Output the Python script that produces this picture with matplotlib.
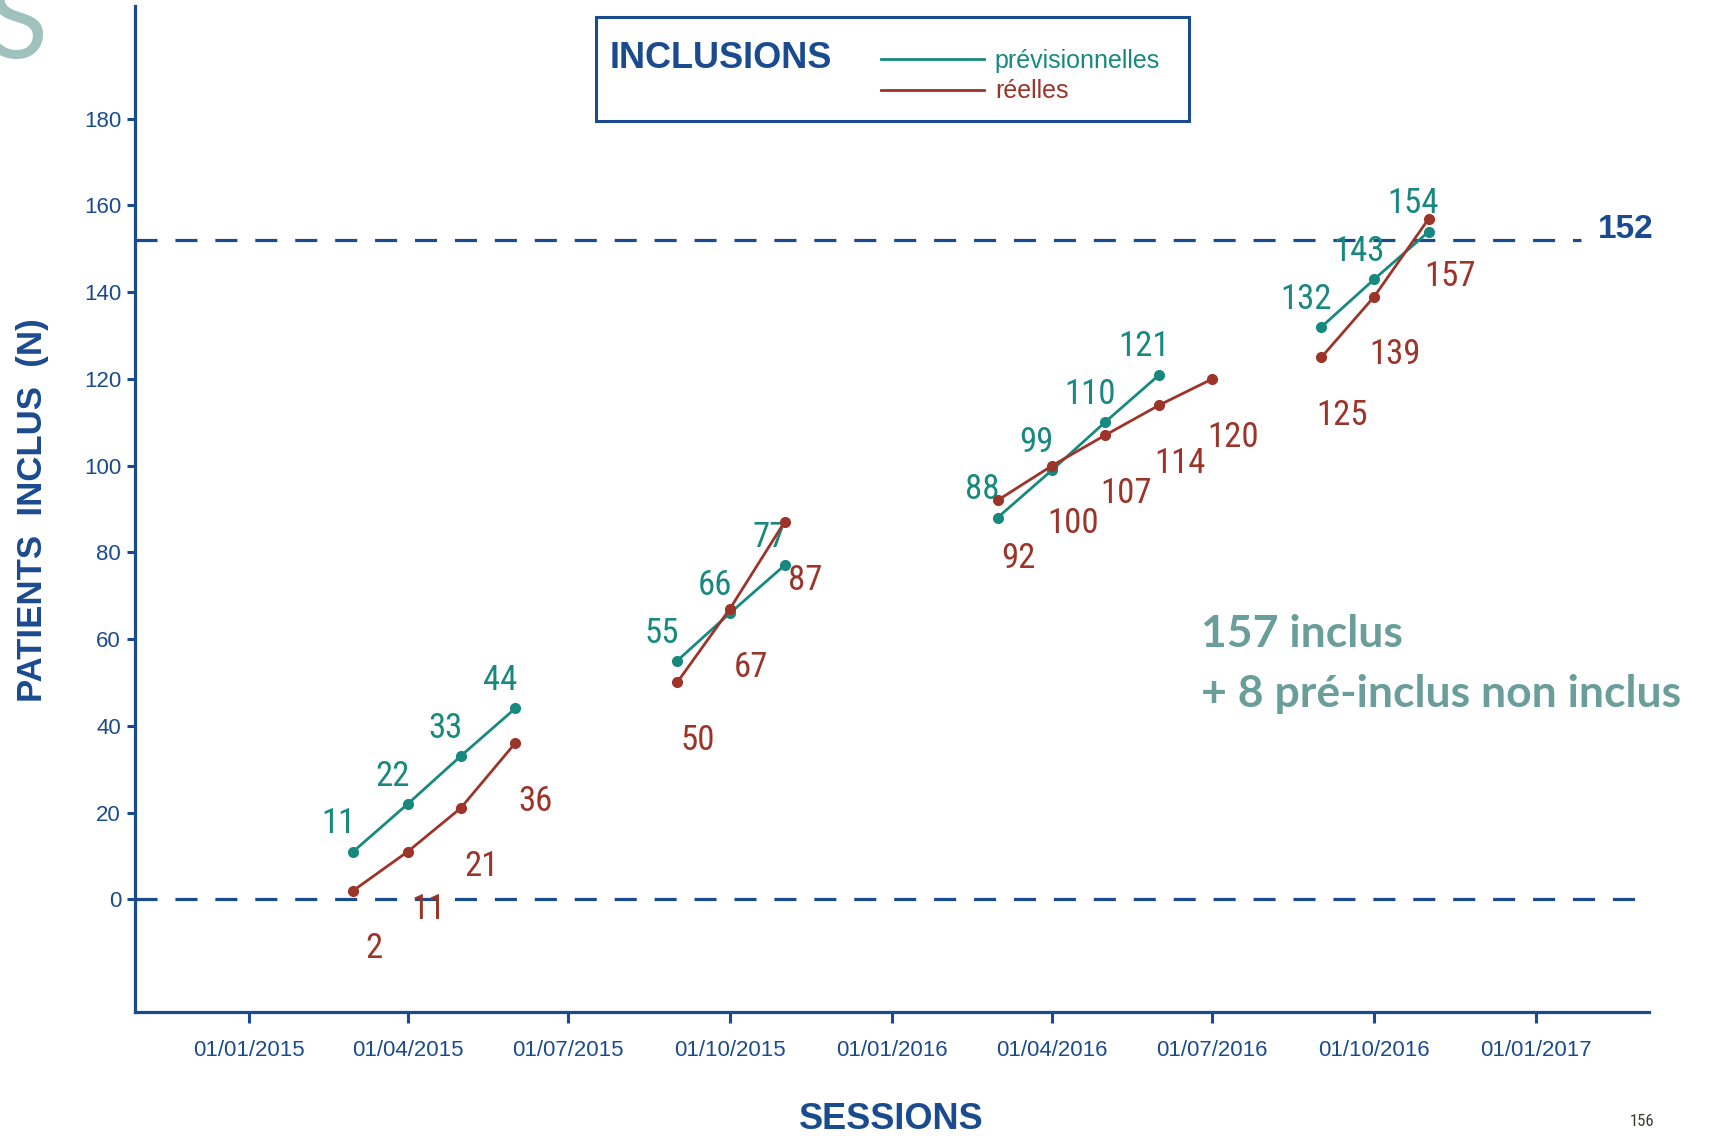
import numpy as np
import matplotlib as mpl
mpl.use('Agg')
import matplotlib.pyplot as plt
import matplotlib.dates as mdates
from matplotlib import font_manager
from matplotlib.patches import Rectangle

# sessions (monthly points, grouped by recruitment wave)
sessions = [
    ['2015-03-01', '2015-04-01', '2015-05-01', '2015-06-01'],
    ['2015-09-01', '2015-10-01', '2015-11-01'],
    ['2016-03-01', '2016-04-01', '2016-05-01', '2016-06-01', '2016-07-01'],
    ['2016-09-01', '2016-10-01', '2016-11-01'],
]
previsionnelles = [[11, 22, 33, 44], [55, 66, 77], [88, 99, 110, 121], [132, 143, 154]]
reelles = [[2, 11, 21, 36], [50, 67, 87], [92, 100, 107, 114, 120], [125, 139, 157]]
objectif = 152
yticks = [0, 20, 40, 60, 80, 100, 120, 140, 160, 180]
xticks = ['2015-01-01', '2015-04-01', '2015-07-01', '2015-10-01', '2016-01-01',
          '2016-04-01', '2016-07-01', '2016-10-01', '2017-01-01']

blue = '#1b4b8f'
teal = '#17897f'
red = '#9c342a'
grey = '#6a9e9a'

# a condensed face for the point labels, if one is installed
names = set(f.name for f in font_manager.fontManager.ttflist)
narrow = 'Liberation Sans'
lbl_size = 20
for cand in ['Liberation Sans Narrow', 'Roboto Condensed', 'DejaVu Sans Condensed',
             'Open Sans Condensed', 'Noto Sans Condensed']:
    if cand in names:
        narrow = cand
        lbl_size = 25
        break

plt.rcParams['font.family'] = ['Liberation Sans', 'DejaVu Sans']

fig = plt.figure(figsize=(17.21, 11.38), dpi=100)
ax = fig.add_axes([0.0784, 0.1107, 0.8797, 0.884])

for d, v in zip(sessions, previsionnelles):
    x = np.array(d[:len(v)], dtype='datetime64[D]')
    ln_p, = ax.plot(x, v, '-o', color=teal, lw=2, ms=7, zorder=3)
    for xi, vi in zip(x, v):
        ax.annotate(str(vi), (xi, vi), xytext=(-11, 20), textcoords='offset points',
                    ha='center', va='center', color=teal, fontsize=lbl_size,
                    family=narrow)
for d, v in zip(sessions, reelles):
    x = np.array(d[:len(v)], dtype='datetime64[D]')
    ln_r, = ax.plot(x, v, '-o', color=red, lw=2, ms=7, zorder=4)
    for xi, vi in zip(x, v):
        ax.annotate(str(vi), (xi, vi), xytext=(15, -42), textcoords='offset points',
                    ha='center', va='center', color=red, fontsize=lbl_size,
                    family=narrow)

# horizontal references
ax.axhline(0, color=blue, lw=2.3, dashes=(6.9, 5.6), zorder=2)
ax.axhline(objectif, xmin=0, xmax=0.955, color=blue, lw=2.3, dashes=(6.9, 5.6), zorder=2)
ax.text(0.966, objectif + 2.5, str(objectif), transform=ax.get_yaxis_transform(),
        ha='left', va='center', color=blue, fontsize=24, fontweight='bold')

ax.set_xlim(np.datetime64('2014-10-28'), np.datetime64('2017-03-06'))
ax.set_ylim(-26, 206)
ax.set_yticks(yticks)
ax.set_xticks(np.array(xticks, dtype='datetime64[D]'))
ax.xaxis.set_major_formatter(mdates.DateFormatter('%d/%m/%Y'))

for s in ['top', 'right']:
    ax.spines[s].set_visible(False)
for s in ['left', 'bottom']:
    ax.spines[s].set_color(blue)
    ax.spines[s].set_linewidth(2.3)
ax.tick_params(axis='both', colors=blue, width=2.2, labelsize=16)
ax.tick_params(axis='y', length=6, pad=4)
ax.tick_params(axis='x', length=8, pad=12)

fig.text(0.019, 0.552, 'PATIENTS  INCLUS  (N)', rotation=90, ha='center', va='center',
         color=blue, fontsize=25, fontweight='bold')
fig.text(0.518, 0.016, 'SESSIONS', ha='center', va='center',
         color=blue, fontsize=26, fontweight='bold')

# legend box
fig.patches.append(Rectangle((0.3463, 0.8937), 0.3446, 0.0918, transform=fig.transFigure,
                             fill=False, edgecolor=blue, lw=2.2))
fig.text(0.354, 0.949, 'INCLUSIONS', ha='left', va='center', color=blue,
         fontsize=26, fontweight='bold')
ax.legend([ln_p, ln_r], ['prévisionnelles', 'réelles'], loc='center left',
          bbox_to_anchor=(0.512, 0.933), bbox_transform=fig.transFigure,
          frameon=False, fontsize=18, handlelength=4.1, handletextpad=0.45,
          labelspacing=0.25, borderpad=0, borderaxespad=0, labelcolor='linecolor',
          markerscale=0)

fig.text(0.698, 0.443, '157 inclus', ha='left', va='center', color=grey,
         fontsize=32, fontweight='bold', family=['Lato', 'DejaVu Sans'])
fig.text(0.698, 0.39, '+ 8 pré-inclus non inclus', ha='left', va='center', color=grey,
         fontsize=32, fontweight='bold', family=['Lato', 'DejaVu Sans'])

fig.text(0.0285, 0.949, 'NS', ha='right', va='baseline', color='#9fc2bf',
         fontsize=80, family=['Lato', 'DejaVu Sans'])
fig.text(0.954, 0.0145, '156', ha='center', va='center', color='#3a3a30',
         fontsize=12, family=narrow)

fig.savefig('out.png', dpi=100)
